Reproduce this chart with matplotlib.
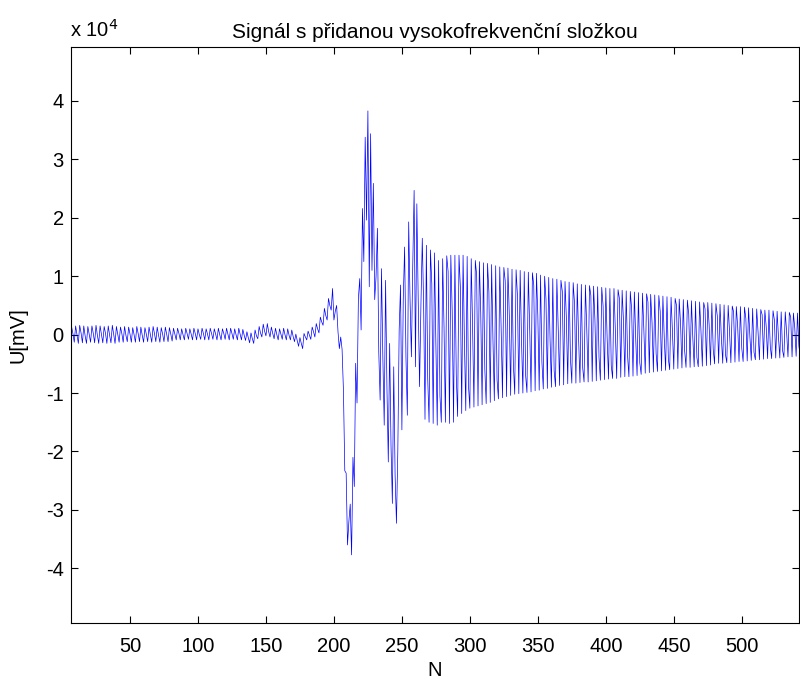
import matplotlib
matplotlib.use("Agg")
import matplotlib.pyplot as plt
import numpy as np

# signal samples in units of 1e4 mV
# n = 1..177 : quiet part with the small HF ripple, bump at ~150, dip at ~175
quiet_part = [
    0.15, 0.01, -0.14, 0.16, -0.01, -0.15, 0.14, 0.02, -0.13, 0.15, 0.00, -0.15,
    0.16, 0.03, -0.14, 0.15, -0.02, -0.15, 0.14, 0.01, -0.13, 0.15, 0.02, -0.14,
    0.16, -0.01, -0.15, 0.15, 0.00, -0.14, 0.14, 0.02, -0.15, 0.15, -0.01, -0.14,
    0.16, 0.01, -0.15,
    0.14, 0.00, -0.13, 0.13, 0.02, -0.13, 0.14, -0.01, -0.12, 0.13, 0.01, -0.13,
    0.12, 0.00, -0.13, 0.14, 0.02, -0.12, 0.13, -0.01, -0.13, 0.12, 0.01, -0.12,
    0.13, 0.00, -0.13, 0.14, 0.02, -0.12, 0.13, -0.01, -0.13, 0.12, 0.01, -0.12,
    0.13, 0.00, -0.12, 0.12, 0.01, -0.11,
    0.11, 0.01, -0.09, 0.11, 0.02, -0.09, 0.10, 0.00, -0.09, 0.11, 0.02, -0.08,
    0.10, 0.01, -0.09, 0.11, 0.02, -0.09, 0.10, 0.00, -0.08, 0.11, 0.02, -0.09,
    0.10, 0.01, -0.09, 0.11, 0.02, -0.08, 0.10, 0.01, -0.09, 0.11, 0.00, -0.09,
    0.10, 0.02, -0.08, 0.11, 0.01, -0.09, 0.11, 0.02, -0.08, 0.10, 0.00, -0.09,
    0.11, 0.01, -0.09, 0.09, -0.01, -0.10,
    0.05, -0.05, -0.14, 0.03, -0.07, -0.15, 0.08, -0.02, -0.07, 0.14, 0.03, -0.04,
    0.18, 0.06, -0.02, 0.19, 0.05, -0.04, 0.13, 0.02, -0.07, 0.11, 0.00, -0.09,
    0.10, 0.01, -0.08, 0.11, 0.00, -0.09, 0.10, -0.01, -0.09, 0.08, -0.03, -0.12,
    0.01, -0.10, -0.20, -0.05, -0.15, -0.24,
]

# n = 178..264 : rise, big swing and the burst
burst_part = [
    0.02, -0.04, -0.09, 0.06, -0.01, -0.08, 0.13, 0.05, -0.04, 0.19, 0.10, 0.03,
    0.30, 0.22, 0.16, 0.45, 0.33, 0.25, 0.62, 0.50, 0.42,
    0.79, 0.25, 0.40, 0.50, 0.05, -0.24, -0.04, -0.25, -0.95, -2.33, -2.37,
    -3.60, -3.20, -2.90, -3.77, -2.10, -2.60, -0.49, -1.17, 0.62, 0.96, 0.08,
    2.16, 1.25, 3.38, 1.96, 3.83, 0.82, 3.44, 1.10, 2.59, 0.60, 1.00,
    1.82, -0.30, -1.12, 1.13, -0.40, -1.55, 0.93, -0.90, -2.18,
    -0.15, -1.90, -2.89, -0.55, -2.40, -3.23,
    -2.00, 0.08, 0.85, -1.63, 0.60, 1.50, -0.40, -1.38, 1.93, 0.60, -0.38,
    1.20, 2.47, -0.55, 2.24, 0.60, -0.89, 0.50,
]

# n = 265..543 : decaying oscillation
decay_part = [
    1.65, 0.50, -1.45, 1.53, -0.75, -1.50, 1.45, 0.87, -1.52, 1.40, -0.16, -1.55,
    1.27, -1.05, -1.50, 1.30, 0.13, -1.50, 1.35, 1.08, -1.52, 1.36, 0.41, -1.50,
    1.36, -0.70, -1.40, 1.36, 0.82, -1.35, 1.36, -0.13, -1.30, 1.34, -0.88, -1.26,
    1.30, 0.13, -1.24, 1.27, 1.02, -1.22, 1.25, 0.38, -1.20, 1.23, -0.59, -1.18,
    1.22, 0.73, -1.16, 1.20, -0.11, -1.13, 1.18, -0.77, -1.10, 1.16, 0.12, -1.08,
    1.15, 0.92, -1.06, 1.14, 0.34, -1.04, 1.12, -0.51, -1.02, 1.11, 0.67, -1.01,
    1.10, -0.10, -1.00, 1.08, -0.69, -0.99, 1.07, 0.11, -0.98, 1.06, 0.85, -0.96,
    1.05, 0.32, -0.95, 1.02, -0.47, -0.93, 1.00, 0.60, -0.92, 0.98, -0.09, -0.90,
    0.96, -0.62, -0.89, 0.95, 0.10, -0.87, 0.93, 0.74, -0.86, 0.91, 0.27, -0.84,
    0.90, -0.42, -0.83, 0.89, 0.53, -0.83, 0.87, -0.08, -0.82, 0.86, -0.57, -0.81,
    0.85, 0.09, -0.81, 0.84, 0.67, -0.80, 0.83, 0.25, -0.79, 0.82, -0.39, -0.78,
    0.81, 0.49, -0.77, 0.80, -0.08, -0.76, 0.79, -0.53, -0.75, 0.79, 0.08, -0.75,
    0.77, 0.62, -0.73, 0.76, 0.23, -0.72, 0.75, -0.36, -0.72, 0.74, 0.44, -0.71,
    0.73, -0.07, -0.70, 0.72, -0.48, -0.68, 0.71, 0.07, -0.66, 0.70, 0.56, -0.65,
    0.69, 0.21, -0.64, 0.68, -0.32, -0.63, 0.67, 0.40, -0.62, 0.66, -0.06, -0.61,
    0.65, -0.42, -0.60, 0.64, 0.06, -0.59, 0.62, 0.50, -0.58, 0.61, 0.18, -0.57,
    0.60, -0.28, -0.56, 0.59, 0.35, -0.56, 0.58, -0.06, -0.55, 0.57, -0.39, -0.55,
    0.56, 0.06, -0.54, 0.55, 0.44, -0.53, 0.55, 0.17, -0.52, 0.54, -0.25, -0.50,
    0.53, 0.32, -0.49, 0.52, -0.05, -0.49, 0.51, -0.34, -0.48, 0.50, 0.05, -0.48,
    0.49, 0.39, -0.47, 0.48, 0.14, -0.46, 0.48, -0.23, -0.46, 0.47, 0.28, -0.45,
    0.46, -0.04, -0.44, 0.45, -0.30, -0.43, 0.44, 0.04, -0.43, 0.43, 0.34, -0.42,
    0.42, 0.13, -0.41, 0.42, -0.21, -0.41, 0.41, 0.25, -0.40, 0.40, -0.04, -0.40,
    0.39, -0.27, -0.39, 0.39, 0.04, -0.38, 0.38, 0.30, -0.38, 0.37, 0.11, -0.37,
    0.37, -0.19, -0.37,
]

signal = np.array(quiet_part + burst_part + decay_part)
n = np.arange(1, len(signal) + 1)

xticks = [50, 100, 150, 200, 250, 300, 350, 400, 450, 500]
yticks = [-4, -3, -2, -1, 0, 1, 2, 3, 4]

plt.rcParams['font.family'] = ['Liberation Sans', 'DejaVu Sans']
plt.rcParams['axes.unicode_minus'] = False

fig = plt.figure(figsize=(8, 6.82), dpi=100)
ax = fig.add_axes([0.0884, 0.087, 0.910, 0.8446])

ax.plot(n, signal, color=(0, 0, 1), lw=0.5)

ax.set_xlim(6.4, 541.9)
ax.set_ylim(-4.93, 4.93)
ax.set_xticks(xticks)
ax.set_yticks(yticks)
ax.set_yticklabels([str(v) for v in yticks])
ax.tick_params(direction='in', length=5, width=0.8, top=True, right=True,
               labelsize=14.5)
ax.tick_params(axis='x', pad=10)
ax.tick_params(axis='y', pad=5)
for s in ax.spines.values():
    s.set_linewidth(0.8)

ax.set_title('Signál s přidanou vysokofrekvenční složkou', fontsize=15, pad=6)
ax.set_xlabel('N', fontsize=14.5, labelpad=4)
ax.set_ylabel('U[mV]', fontsize=14.5, labelpad=13)
fig.text(70 / 800, 1 - 37 / 682, 'x 10$^{4}$', fontsize=14.5, ha='left', va='baseline')

fig.savefig('out.png', dpi=100)
